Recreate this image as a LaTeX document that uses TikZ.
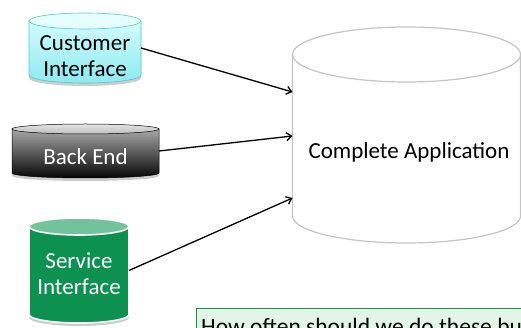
\documentclass[tikz,border=0pt]{standalone}
\usepackage{fontspec}
\setmainfont{Carlito}
\usetikzlibrary{arrows.meta}

\definecolor{custtop}{HTML}{D2FBFD}
\definecolor{custbot}{HTML}{8DEAF0}
\definecolor{custcap}{HTML}{E6FDFE}
\definecolor{custline}{HTML}{4FC8D0}
\definecolor{backtop}{HTML}{A8A8A8}
\definecolor{backbot}{HTML}{050505}
\definecolor{backcaptop}{HTML}{E4E4E4}
\definecolor{backcapbot}{HTML}{BDBDBD}
\definecolor{servbody}{HTML}{0C9150}
\definecolor{servcap}{HTML}{72C39B}
\definecolor{appline}{HTML}{C4C4C4}
\definecolor{notefill}{HTML}{E3F5E6}
\definecolor{noteline}{HTML}{17924D}

\begin{document}
\begin{tikzpicture}[x=1pt,y=-1pt,
    txt/.style={font=\fontsize{23}{26}\selectfont, align=center, inner sep=0pt},
    area/.style={inner sep=0pt, outer sep=0pt, draw=none},
    link/.style={-{Straight Barb[length=5pt,width=8pt]}, line width=1.3pt, black},
    shade/.style={black, opacity=0.2}]
  \useasboundingbox (0,0) rectangle (521,328);
  \clip (0,0) rectangle (521,328);

  % outline areas of the four cylinders (used as connector ends)
  \node[area, minimum width=112pt, minimum height=70pt]  (cust) at (85,48) {};
  \node[area, minimum width=147pt, minimum height=54pt]  (back) at (85.5,151) {};
  \node[area, minimum width=100pt, minimum height=105pt] (serv) at (79,270.5) {};
  \node[area, minimum width=228pt, minimum height=216pt] (app)  at (406.5,135) {};

  % Customer Interface cylinder
  \fill[shade] (29,24) -- (29,78) arc[start angle=180,end angle=0,x radius=56,y radius=8] -- (141,24) -- cycle;
  \path[top color=custtop, bottom color=custbot, draw=custline, line width=0.6pt]
    (29,21) -- (29,75) arc[start angle=180,end angle=0,x radius=56,y radius=8] -- (141,21) -- cycle;
  \draw[fill=custcap, draw=custline, line width=0.6pt] (85,21) ellipse[x radius=56, y radius=8];

  % Back End cylinder
  \fill[shade] (12,132) -- (12,176) arc[start angle=180,end angle=0,x radius=73.5,y radius=5] -- (159,132) -- cycle;
  \path[top color=backtop, bottom color=backbot, draw=black, line width=0.5pt]
    (12,129) -- (12,173) arc[start angle=180,end angle=0,x radius=73.5,y radius=5] -- (159,129) -- cycle;
  \path[top color=backcaptop, bottom color=backcapbot, draw=black, line width=0.5pt]
    (85.5,129) ellipse[x radius=73.5, y radius=5];

  % Service Interface cylinder
  \fill[shade] (29,229.5) -- (29,317.5) arc[start angle=180,end angle=0,x radius=50,y radius=8.5] -- (129,229.5) -- cycle;
  \path[fill=servbody, draw=white, line width=1.6pt]
    (29,226.5) -- (29,314.5) arc[start angle=180,end angle=0,x radius=50,y radius=8.5] -- (129,226.5) -- cycle;
  \draw[fill=servcap, draw=white, line width=1.6pt] (79,226.5) ellipse[x radius=50, y radius=8.5];

  % Complete Application cylinder
  \path[fill=white, draw=appline, line width=1.2pt]
    (292.5,54.5) -- (292.5,216) arc[start angle=180,end angle=0,x radius=114,y radius=27] -- (520.5,54.5) -- cycle;
  \draw[fill=white, draw=appline, line width=1.2pt] (406.5,54.5) ellipse[x radius=114, y radius=27.5];

  % labels
  \node[txt] (cust-text) at (85,56) {Customer\\Interface};
  \node[txt, text=white] (back-text) at (85.5,157) {Back End};
  \node[txt, text=white] (serv-text) at (79,274) {Service\\Interface};
  \node[txt] (app-text) at (409,152) {Complete Application};

  % connectors
  \draw[link] (cust.east) -- ([yshift=43pt]app.west);
  \draw[link] (back.east) -- ([yshift=-1pt]app.west);
  \draw[link] (serv.east) -- ([yshift=-63pt]app.west);

  % note box at the bottom
  \draw[fill=notefill, draw=noteline, line width=0.8pt] (196,308) rectangle (540,345);
  \node[txt, font=\fontsize{23.5}{27}\selectfont, anchor=base west] (note) at (201,334) {How often should we do these bu};
\end{tikzpicture}
\end{document}
